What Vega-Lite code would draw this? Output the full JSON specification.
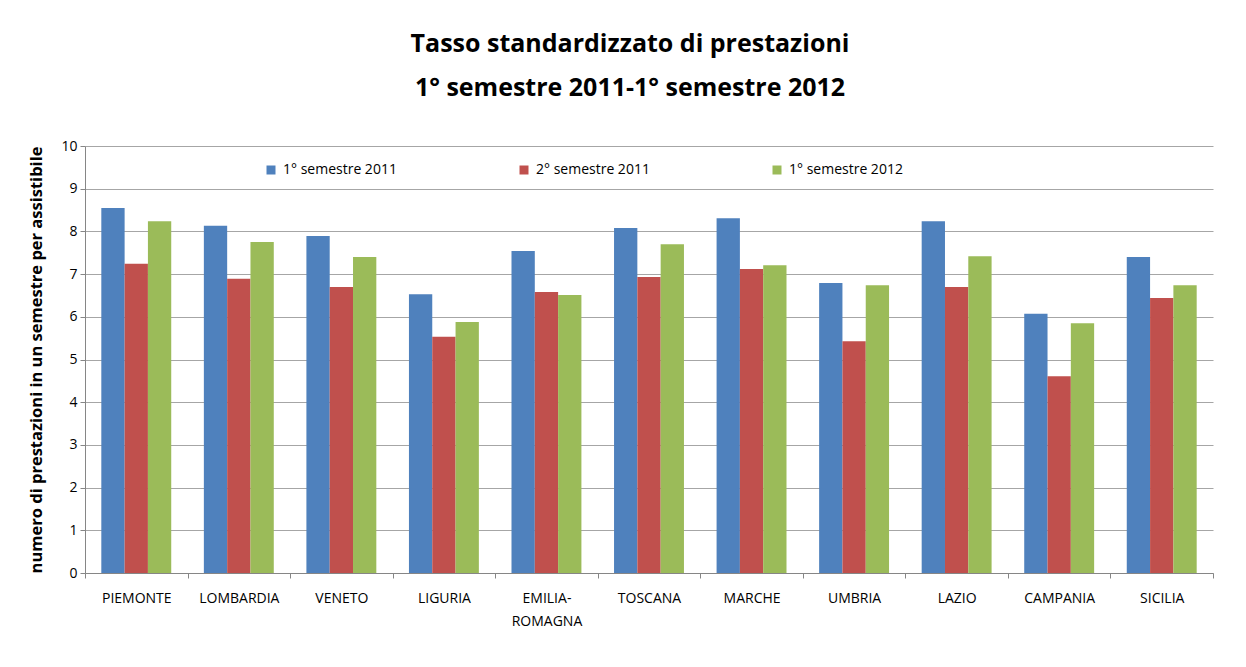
{
  "$schema": "https://vega.github.io/schema/vega-lite/v6.json",
  "autosize": {"type": "none"},
  "width": 1128,
  "height": 427,
  "padding": {"left": 85, "top": 146, "right": 33, "bottom": 94},
  "background": "white",
  "config": {
    "font": "Open Sans",
    "view": {"stroke": null}
  },
  "title": {
    "text": ["Tasso standardizzato di prestazioni", "1° semestre 2011-1° semestre 2012"],
    "font": "Open Sans",
    "fontSize": 25,
    "fontWeight": "bold",
    "color": "#000000",
    "lineHeight": 44,
    "offset": 38,
    "dx": -19,
    "anchor": "middle"
  },
  "data": {
    "values": [
      {"regione": "PIEMONTE", "periodo": "1° semestre 2011", "valore": 8.55},
      {"regione": "PIEMONTE", "periodo": "2° semestre 2011", "valore": 7.24},
      {"regione": "PIEMONTE", "periodo": "1° semestre 2012", "valore": 8.24},
      {"regione": "LOMBARDIA", "periodo": "1° semestre 2011", "valore": 8.13},
      {"regione": "LOMBARDIA", "periodo": "2° semestre 2011", "valore": 6.89},
      {"regione": "LOMBARDIA", "periodo": "1° semestre 2012", "valore": 7.75},
      {"regione": "VENETO", "periodo": "1° semestre 2011", "valore": 7.89},
      {"regione": "VENETO", "periodo": "2° semestre 2011", "valore": 6.70},
      {"regione": "VENETO", "periodo": "1° semestre 2012", "valore": 7.40},
      {"regione": "LIGURIA", "periodo": "1° semestre 2011", "valore": 6.53},
      {"regione": "LIGURIA", "periodo": "2° semestre 2011", "valore": 5.53},
      {"regione": "LIGURIA", "periodo": "1° semestre 2012", "valore": 5.88},
      {"regione": "EMILIA-ROMAGNA", "periodo": "1° semestre 2011", "valore": 7.54},
      {"regione": "EMILIA-ROMAGNA", "periodo": "2° semestre 2011", "valore": 6.58},
      {"regione": "EMILIA-ROMAGNA", "periodo": "1° semestre 2012", "valore": 6.51},
      {"regione": "TOSCANA", "periodo": "1° semestre 2011", "valore": 8.08},
      {"regione": "TOSCANA", "periodo": "2° semestre 2011", "valore": 6.93},
      {"regione": "TOSCANA", "periodo": "1° semestre 2012", "valore": 7.70},
      {"regione": "MARCHE", "periodo": "1° semestre 2011", "valore": 8.31},
      {"regione": "MARCHE", "periodo": "2° semestre 2011", "valore": 7.12},
      {"regione": "MARCHE", "periodo": "1° semestre 2012", "valore": 7.21},
      {"regione": "UMBRIA", "periodo": "1° semestre 2011", "valore": 6.79},
      {"regione": "UMBRIA", "periodo": "2° semestre 2011", "valore": 5.43},
      {"regione": "UMBRIA", "periodo": "1° semestre 2012", "valore": 6.74},
      {"regione": "LAZIO", "periodo": "1° semestre 2011", "valore": 8.24},
      {"regione": "LAZIO", "periodo": "2° semestre 2011", "valore": 6.70},
      {"regione": "LAZIO", "periodo": "1° semestre 2012", "valore": 7.42},
      {"regione": "CAMPANIA", "periodo": "1° semestre 2011", "valore": 6.07},
      {"regione": "CAMPANIA", "periodo": "2° semestre 2011", "valore": 4.61},
      {"regione": "CAMPANIA", "periodo": "1° semestre 2012", "valore": 5.85},
      {"regione": "SICILIA", "periodo": "1° semestre 2011", "valore": 7.40},
      {"regione": "SICILIA", "periodo": "2° semestre 2011", "valore": 6.44},
      {"regione": "SICILIA", "periodo": "1° semestre 2012", "valore": 6.74}
    ]
  },
  "mark": {"type": "bar"},
  "encoding": {
    "x": {
      "field": "regione",
      "type": "nominal",
      "sort": null,
      "scale": {"paddingInner": 0, "paddingOuter": 0},
      "axis": {
        "title": null,
        "labelAngle": 0,
        "labelFontSize": 14,
        "labelColor": "#000000",
        "labelPadding": 13,
        "labelLineHeight": 23,
        "labelExpr": "datum.label == 'EMILIA-ROMAGNA' ? ['EMILIA-', 'ROMAGNA'] : datum.label",
        "tickBand": "extent",
        "tickSize": 5,
        "tickColor": "#868686",
        "domainColor": "#868686",
        "grid": false
      }
    },
    "xOffset": {
      "field": "periodo",
      "type": "nominal",
      "sort": ["1° semestre 2011", "2° semestre 2011", "1° semestre 2012"],
      "scale": {"paddingInner": 0, "paddingOuter": 0.7}
    },
    "y": {
      "field": "valore",
      "type": "quantitative",
      "scale": {"domain": [0, 10], "nice": false},
      "axis": {
        "title": "numero di prestazioni in un semestre per assistibile",
        "titleFontSize": 16.5,
        "titleFontWeight": "bold",
        "titleColor": "#000000",
        "titlePadding": 16,
        "values": [0, 1, 2, 3, 4, 5, 6, 7, 8, 9, 10],
        "labelFontSize": 14,
        "labelColor": "#000000",
        "labelPadding": 3,
        "tickSize": 5,
        "tickColor": "#868686",
        "domainColor": "#868686",
        "gridColor": "#A6A6A6",
        "gridOpacity": 1
      }
    },
    "color": {
      "field": "periodo",
      "type": "nominal",
      "sort": ["1° semestre 2011", "2° semestre 2011", "1° semestre 2012"],
      "scale": {
        "domain": ["1° semestre 2011", "2° semestre 2011", "1° semestre 2012"],
        "range": ["#4F81BD", "#C0504D", "#9BBB59"]
      },
      "legend": {
        "title": null,
        "orient": "none",
        "legendX": 179,
        "legendY": 17,
        "direction": "horizontal",
        "columns": 3,
        "columnPadding": 120,
        "symbolType": "square",
        "symbolSize": 81,
        "symbolStrokeWidth": 0,
        "labelFontSize": 14,
        "labelColor": "#000000",
        "labelOffset": 5
      }
    }
  }
}
